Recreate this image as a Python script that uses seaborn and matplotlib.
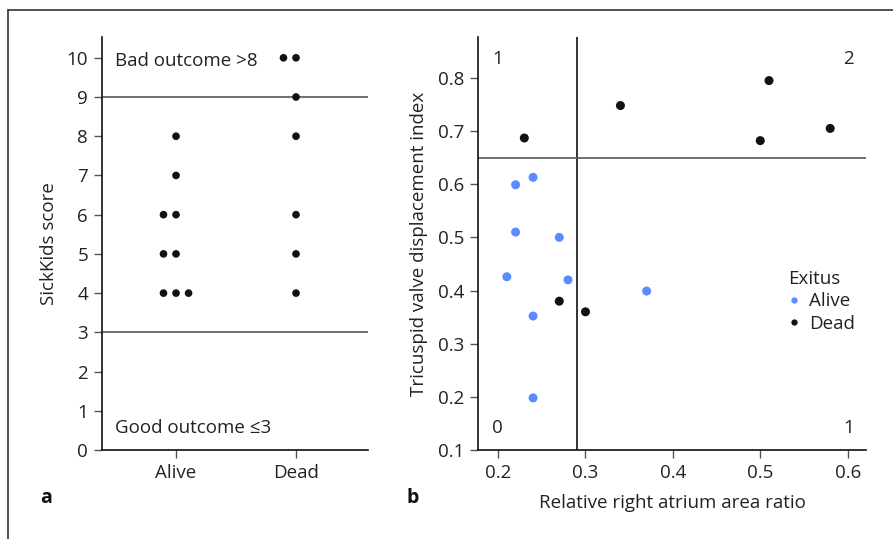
import matplotlib
matplotlib.use("Agg")
import matplotlib.pyplot as plt
from matplotlib.lines import Line2D
import seaborn as sns
import pandas as pd

# ---------------- data ----------------
# Panel a: SickKids score by outcome
alive_scores = [8, 7, 6, 6, 5, 5, 4, 4, 4]
dead_scores = [10, 10, 9, 8, 6, 5, 4]
groups = ["Alive", "Dead"]

# Panel b: relative RA area ratio vs tricuspid valve displacement index
alive_x = [0.22, 0.24, 0.22, 0.27, 0.21, 0.28, 0.37, 0.24, 0.24]
alive_y = [0.599, 0.613, 0.510, 0.500, 0.426, 0.420, 0.399, 0.352, 0.198]
dead_x = [0.23, 0.34, 0.51, 0.50, 0.58, 0.27, 0.30]
dead_y = [0.687, 0.748, 0.795, 0.682, 0.705, 0.380, 0.360]

score_ticks = list(range(0, 11))
b_xticks = [0.2, 0.3, 0.4, 0.5, 0.6]
b_yticks = [0.1, 0.2, 0.3, 0.4, 0.5, 0.6, 0.7, 0.8]

# ---------------- style ----------------
sns.set_style("ticks")
plt.rcParams["font.family"] = ["Open Sans", "DejaVu Sans"]
TXT = "#222222"
GRAY = "#555555"
BLUE = "#5b8cff"
BLACK = "#111111"
FS = 13.5

fig = plt.figure(figsize=(8.93, 5.39), dpi=100)
W, H = 893, 539
def ax_rect(l, r, t, b):
    return [l / W, 1 - b / H, (r - l) / W, (b - t) / H]

ax1 = fig.add_axes(ax_rect(102, 368, 37, 450))
ax2 = fig.add_axes(ax_rect(478, 866, 37, 450))

# ---------------- panel a ----------------
df_a = pd.DataFrame({
    "Exitus": ["Alive"] * len(alive_scores) + ["Dead"] * len(dead_scores),
    "score": alive_scores + dead_scores,
})
ax1.set_xlim(-0.617, 1.6)
ax1.set_ylim(0, 10.53)
sns.swarmplot(data=df_a, x="Exitus", y="score", order=groups, color=BLACK,
              size=5.5, linewidth=3.1, edgecolor="none", ax=ax1)
ax1.set_xlim(-0.617, 1.6)
ax1.set_ylim(0, 10.53)
ax1.axhline(9, color=GRAY, lw=1.2, zorder=1)
ax1.axhline(3, color=GRAY, lw=1.2, zorder=1)
ax1.set_yticks(score_ticks)
ax1.set_xlabel("")
ax1.set_ylabel("SickKids score", fontsize=FS, color=TXT, labelpad=6)
ax1.text(-0.51, 9.93, "Bad outcome >8", fontsize=FS, color=TXT, ha="left", va="center")
ax1.text(-0.51, 0.55, "Good outcome \u22643", fontsize=FS, color=TXT, ha="left", va="center")

# ---------------- panel b ----------------
df_b = pd.DataFrame({
    "x": alive_x + dead_x,
    "y": alive_y + dead_y,
    "Exitus": ["Alive"] * len(alive_x) + ["Dead"] * len(dead_x),
})
sns.scatterplot(data=df_b, x="x", y="y", hue="Exitus", hue_order=groups,
                palette={"Alive": BLUE, "Dead": BLACK}, s=42, linewidth=0,
                ax=ax2, zorder=3)
ax2.set_xlim(0.177, 0.621)
ax2.set_ylim(0.1, 0.877)
ax2.axvline(0.29, color=BLACK, lw=1.2, zorder=1)
ax2.axhline(0.65, color=GRAY, lw=1.2, zorder=1)
ax2.set_xticks(b_xticks)
ax2.set_xticklabels([f"{v:.1f}" for v in b_xticks])
ax2.set_yticks(b_yticks)
ax2.set_yticklabels([f"{v:.1f}" for v in b_yticks])
ax2.set_xlabel("Relative right atrium area ratio", fontsize=FS, color=TXT, labelpad=9)
ax2.set_ylabel("Tricuspid valve displacement index", fontsize=FS, color=TXT, labelpad=7)
for tx, ty, s in [(0.199, 0.835, "1"), (0.601, 0.835, "2"),
                  (0.199, 0.142, "0"), (0.601, 0.142, "1")]:
    ax2.text(tx, ty, s, fontsize=FS, color=TXT, ha="center", va="center")

leg = ax2.legend(title="Exitus", loc="upper left", bbox_to_anchor=(0.8, 0.435),
                 frameon=False, fontsize=FS, title_fontsize=FS, markerscale=0.7,
                 handlelength=0.6, handletextpad=0.5, labelspacing=0.22,
                 borderpad=0, borderaxespad=0, alignment="left")
for t in leg.get_texts():
    t.set_color(TXT)
leg.get_title().set_color(TXT)

# ---------------- common axis styling ----------------
for ax in (ax1, ax2):
    sns.despine(ax=ax)
    for sp in ("left", "bottom"):
        ax.spines[sp].set_linewidth(1.2)
        ax.spines[sp].set_color(BLACK)
    ax.tick_params(axis="both", length=6, width=1, color=GRAY,
                   labelsize=FS, labelcolor=TXT, pad=4)

fig.text(40 / W, 1 - 498 / H, "a", fontsize=14, fontweight="bold", color=BLACK,
         ha="left", va="center")
fig.text(407 / W, 1 - 498 / H, "b", fontsize=14, fontweight="bold", color=BLACK,
         ha="left", va="center")

# outer frame (top and left edges)
fig.add_artist(Line2D([8 / W, 8 / W], [0, 1 - 10 / H], color="#333333", lw=1.2,
                      transform=fig.transFigure))
fig.add_artist(Line2D([8 / W, 1], [1 - 10 / H, 1 - 10 / H], color="#333333", lw=1.2,
                      transform=fig.transFigure))

fig.savefig("out.png", dpi=100)
